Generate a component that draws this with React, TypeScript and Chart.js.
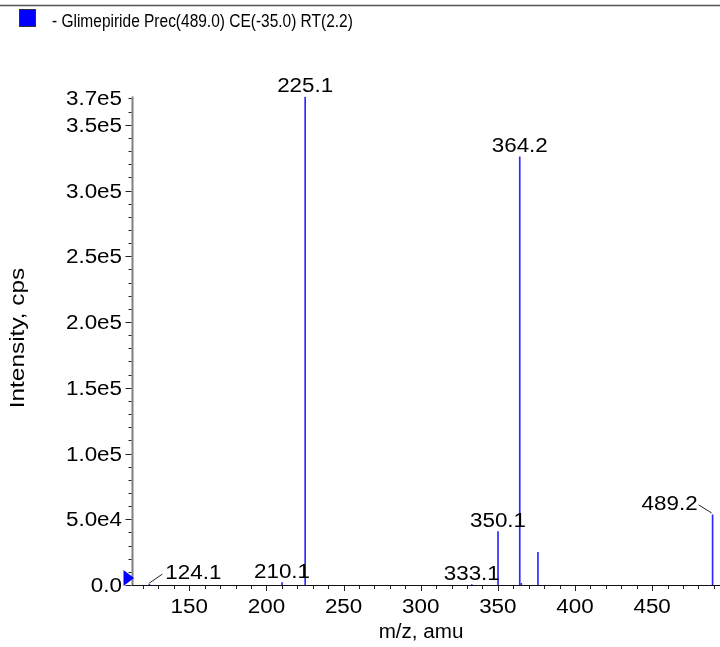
import React, { useEffect, useRef } from "react";
import { Chart, registerables } from "chart.js";

Chart.register(...registerables);

const TITLE = "- Glimepiride Prec(489.0) CE(-35.0) RT(2.2)";
const X_TITLE = "m/z, amu";
const Y_TITLE = "Intensity, cps";

const peakMz = [124.1, 210.1, 225.1, 333.1, 350.1, 364.2, 365.2, 376.0, 489.2];
const peakIntensity = [700, 1750, 371000, 300, 40600, 325700, 1200, 24900, 53300];

const labelMz = [124.1, 210.1, 225.1, 333.1, 350.1, 364.2, 489.2];
const labelTexts = ["124.1", "210.1", "225.1", "333.1", "350.1", "364.2", "489.2"];
const labelSide = ["right", "center", "center", "center", "center", "center", "left"];

const xTickValues = [150, 200, 250, 300, 350, 400, 450];
const xTickLabels = ["150", "200", "250", "300", "350", "400", "450"];
const yTickValues = [0, 50000, 100000, 150000, 200000, 250000, 300000, 350000, 370000];
const yTickLabels = ["0.0", "5.0e4", "1.0e5", "1.5e5", "2.0e5", "2.5e5", "3.0e5", "3.5e5", "3.7e5"];

const X_MIN = 113.5;
const X_MAX = 494;
const Y_MAX = 371500;
const X_MINOR_STEP = 10;
const Y_MINOR_STEP = 10000;

const FONT = '20px "Liberation Sans", Arial, sans-serif';
const TITLE_FONT = '18px "Liberation Sans", Arial, sans-serif';
const SX = 1.12;

function drawText(ctx: CanvasRenderingContext2D, text: string, x: number, y: number, align: string, sx: number, font: string) {
  ctx.save();
  ctx.font = font;
  ctx.textBaseline = "alphabetic";
  ctx.textAlign = "left";
  const w = ctx.measureText(text).width * sx;
  const left = align === "center" ? x - w / 2 : align === "right" ? x - w : x;
  ctx.translate(left, y);
  ctx.scale(sx, 1);
  ctx.fillStyle = "#000";
  ctx.fillText(text, 0, 0);
  ctx.restore();
}

const decorPlugin = {
  id: "decor",
  afterDraw(chart: any) {
    const ctx: CanvasRenderingContext2D = chart.ctx;
    const area = chart.chartArea;
    const xs = chart.scales.x;
    const ys = chart.scales.y;
    const base = ys.getPixelForValue(0);

    ctx.save();
    // top rule
    ctx.strokeStyle = "#555";
    ctx.lineWidth = 1.5;
    ctx.beginPath();
    ctx.moveTo(0, 5.5);
    ctx.lineTo(chart.width, 5.5);
    ctx.stroke();
    // legend swatch
    ctx.fillStyle = "#0000ff";
    ctx.fillRect(19.5, 9.5, 16, 17);
    ctx.strokeStyle = "#333";
    ctx.lineWidth = 1;
    ctx.strokeRect(19.5, 9.5, 16, 17);
    drawText(ctx, TITLE, 52, 27, "left", 0.86, TITLE_FONT);

    // y axis line
    ctx.strokeStyle = "#808080";
    ctx.lineWidth = 2;
    ctx.beginPath();
    ctx.moveTo(area.left - 0.5, area.top);
    ctx.lineTo(area.left - 0.5, base + 1);
    ctx.stroke();
    // x axis line
    ctx.strokeStyle = "#111";
    ctx.lineWidth = 1;
    ctx.beginPath();
    ctx.moveTo(area.left - 1, base + 0.5);
    ctx.lineTo(area.right, base + 0.5);
    ctx.stroke();

    // x ticks
    ctx.strokeStyle = "#222";
    ctx.lineWidth = 1;
    for (let v = Math.ceil(X_MIN / X_MINOR_STEP) * X_MINOR_STEP; v <= X_MAX; v += X_MINOR_STEP) {
      const px = Math.round(xs.getPixelForValue(v)) + 0.5;
      const major = v % 50 === 0;
      ctx.beginPath();
      ctx.moveTo(px, base + 1);
      ctx.lineTo(px, base + (major ? 6 : 4));
      ctx.stroke();
    }
    // y ticks
    for (let v = 0; v <= Y_MAX; v += Y_MINOR_STEP) {
      const py = Math.round(ys.getPixelForValue(v)) + 0.5;
      const major = v % 50000 === 0;
      ctx.beginPath();
      ctx.moveTo(area.left - 1.5, py);
      ctx.lineTo(area.left - 1.5 - (major ? 6 : 3), py);
      ctx.stroke();
    }
    // tick labels
    xTickValues.forEach((v, i) => {
      drawText(ctx, xTickLabels[i], xs.getPixelForValue(v), base + 28, "center", SX, FONT);
    });
    yTickValues.forEach((v, i) => {
      drawText(ctx, yTickLabels[i], area.left - 11, ys.getPixelForValue(v) + 7, "right", SX, FONT);
    });

    // axis titles
    drawText(ctx, X_TITLE, 421, 638, "center", 1.03, FONT);
    ctx.save();
    ctx.translate(24, 338);
    ctx.rotate(-Math.PI / 2);
    drawText(ctx, Y_TITLE, 0, 0, "center", 1.22, FONT);
    ctx.restore();

    // precursor marker
    ctx.fillStyle = "#0000ff";
    ctx.beginPath();
    ctx.moveTo(area.left - 9.5, base - 15);
    ctx.lineTo(area.left - 9.5, base + 1);
    ctx.lineTo(area.left + 1, base - 7);
    ctx.closePath();
    ctx.fill();

    // peak labels
    labelMz.forEach((mz, i) => {
      const idx = peakMz.indexOf(mz);
      const px = xs.getPixelForValue(mz);
      const py = ys.getPixelForValue(peakIntensity[idx]);
      const side = labelSide[i];
      ctx.strokeStyle = "#222";
      ctx.lineWidth = 1;
      if (side === "right") {
        ctx.beginPath();
        ctx.moveTo(px, py - 1);
        ctx.lineTo(px + 13, py - 10);
        ctx.stroke();
        drawText(ctx, labelTexts[i], px + 16, py - 5, "left", SX, FONT);
      } else if (side === "left") {
        ctx.beginPath();
        ctx.moveTo(px - 1, py - 2);
        ctx.lineTo(px - 14, py - 10);
        ctx.stroke();
        drawText(ctx, labelTexts[i], px - 15, py - 5, "right", SX, FONT);
      } else {
        drawText(ctx, labelTexts[i], px, py - 5, "center", SX, FONT);
      }
    });
    ctx.restore();
  },
};

export default function App() {
  const ref = useRef<HTMLCanvasElement | null>(null);
  useEffect(() => {
    const canvas = ref.current;
    if (!canvas) return;
    const chart = new Chart(canvas, {
      type: "bar",
      data: {
        datasets: [
          {
            data: peakMz.map((x, i) => ({ x, y: peakIntensity[i] })),
            backgroundColor: "#2a2aff",
            borderWidth: 0,
            barThickness: 1,
            grouped: false,
          } as any,
        ],
      },
      options: {
        responsive: false,
        animation: false,
        devicePixelRatio: 1,
        layout: { padding: { top: 96.5, left: 0, right: 0, bottom: 0 } },
        plugins: { legend: { display: false }, tooltip: { enabled: false } },
        scales: {
          x: {
            type: "linear",
            min: X_MIN,
            max: X_MAX,
            offset: false,
            grid: { display: false },
            border: { display: false },
            ticks: { display: false },
            afterFit: (s: any) => {
              s.height = 62;
            },
          },
          y: {
            type: "linear",
            min: 0,
            max: Y_MAX,
            grid: { display: false },
            border: { display: false },
            ticks: { display: false },
            afterFit: (s: any) => {
              s.width = 133;
            },
          },
        },
      } as any,
      plugins: [decorPlugin],
    });
    return () => chart.destroy();
  }, []);
  return (
    <div style={{ position: "absolute", left: 0, top: 0, width: 720, height: 647, background: "#fff" }}>
      <canvas ref={ref} width={720} height={647} style={{ width: 720, height: 647, display: "block" }} />
    </div>
  );
}
